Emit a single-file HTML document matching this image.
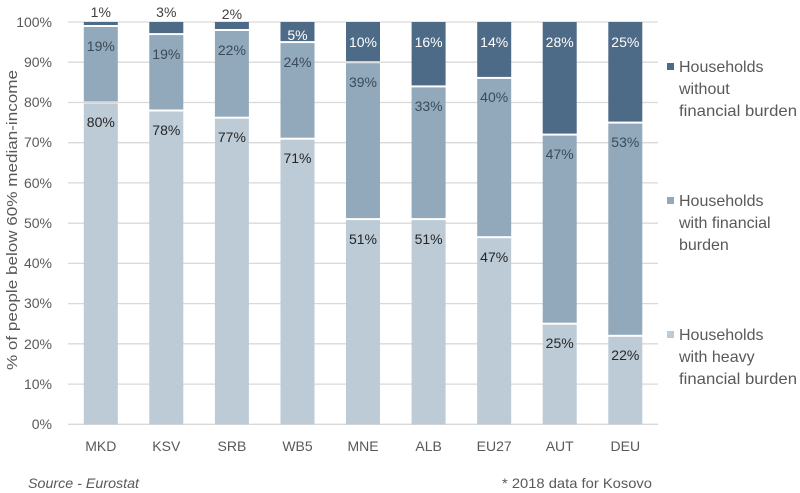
<!DOCTYPE html>
<html><head><meta charset="utf-8"><style>
html,body{margin:0;padding:0;background:#fff;}
svg{display:block;font-family:"Liberation Sans",sans-serif;}
</style></head><body>
<svg width="800" height="493" viewBox="0 0 800 493" xmlns="http://www.w3.org/2000/svg">
<g stroke="#d9d9d9" stroke-width="1.3">
<line x1="68" x2="658" y1="22" y2="22"/><line x1="68" x2="658" y1="62.2" y2="62.2"/><line x1="68" x2="658" y1="102.5" y2="102.5"/><line x1="68" x2="658" y1="142.7" y2="142.7"/><line x1="68" x2="658" y1="182.9" y2="182.9"/><line x1="68" x2="658" y1="223.2" y2="223.2"/><line x1="68" x2="658" y1="263.4" y2="263.4"/><line x1="68" x2="658" y1="303.6" y2="303.6"/><line x1="68" x2="658" y1="343.8" y2="343.8"/><line x1="68" x2="658" y1="384.1" y2="384.1"/><line x1="68" x2="658" y1="424.3" y2="424.3"/>
</g>
<g font-size="14" fill="#595959" text-anchor="end">
<text x="52" y="27">100%</text><text x="52" y="67">90%</text><text x="52" y="107">80%</text><text x="52" y="147">70%</text><text x="52" y="188">60%</text><text x="52" y="228">50%</text><text x="52" y="268">40%</text><text x="52" y="308">30%</text><text x="52" y="349">20%</text><text x="52" y="389">10%</text><text x="52" y="429">0%</text>
</g>
<text transform="translate(17,220) rotate(-90)" font-size="15" fill="#595959" text-anchor="middle" textLength="300" lengthAdjust="spacingAndGlyphs">% of people below 60% median-income</text>
<g fill="#bccbd6">
<rect x="83.8" y="103.5" width="34" height="320.8"/><rect x="149.3" y="111.5" width="34" height="312.8"/><rect x="214.9" y="118.7" width="34" height="305.6"/><rect x="280.5" y="139.7" width="34" height="284.6"/><rect x="346" y="220.1" width="34" height="204.2"/><rect x="411.6" y="220.1" width="34" height="204.2"/><rect x="477.2" y="238.2" width="34" height="186.1"/><rect x="542.7" y="324.7" width="34" height="99.6"/><rect x="608.3" y="336.8" width="34" height="87.5"/>
</g>
<g fill="#91a9ba">
<rect x="83.8" y="27" width="34" height="74.5"/><rect x="149.3" y="35.1" width="34" height="74.4"/><rect x="214.9" y="31" width="34" height="85.7"/><rect x="280.5" y="43.1" width="34" height="94.6"/><rect x="346" y="63.2" width="34" height="154.9"/><rect x="411.6" y="87.4" width="34" height="130.7"/><rect x="477.2" y="78.9" width="34" height="157.3"/><rect x="542.7" y="135.6" width="34" height="187.1"/><rect x="608.3" y="123.6" width="34" height="211.2"/>
</g>
<g fill="#4d6a87">
<rect x="83.8" y="22" width="34" height="3"/><rect x="149.3" y="22" width="34" height="11.1"/><rect x="214.9" y="22" width="34" height="7"/><rect x="280.5" y="22" width="34" height="19.1"/><rect x="346" y="22" width="34" height="39.2"/><rect x="411.6" y="22" width="34" height="63.4"/><rect x="477.2" y="22" width="34" height="54.9"/><rect x="542.7" y="22" width="34" height="111.6"/><rect x="608.3" y="22" width="34" height="99.6"/>
</g>
<g font-size="14" text-anchor="middle">
<g fill="#262626">
<text x="100.8" y="127">80%</text><text x="166.3" y="135">78%</text><text x="231.9" y="142">77%</text><text x="297.5" y="163">71%</text><text x="363" y="244">51%</text><text x="428.6" y="244">51%</text><text x="494.2" y="262">47%</text><text x="559.7" y="348">25%</text><text x="625.3" y="360">22%</text>
<text x="100.8" y="17" fill="#404040">1%</text><text x="166.3" y="17" fill="#404040">3%</text><text x="231.9" y="19" fill="#404040">2%</text>
</g>
<g fill="#3a4b5a">
<text x="100.8" y="51">19%</text><text x="166.3" y="59">19%</text><text x="231.9" y="55">22%</text><text x="297.5" y="67">24%</text><text x="363" y="87">39%</text><text x="428.6" y="111">33%</text><text x="494.2" y="102">40%</text><text x="559.7" y="159">47%</text><text x="625.3" y="147">53%</text>
</g>
<g fill="#ffffff">
<text x="297.5" y="40">5%</text><text x="363" y="47">10%</text><text x="428.6" y="47">16%</text><text x="494.2" y="47">14%</text><text x="559.7" y="47">28%</text><text x="625.3" y="47">25%</text>
</g>
</g>
<g font-size="14" fill="#595959" text-anchor="middle">
<text x="100.8" y="451">MKD</text><text x="166.3" y="451">KSV</text><text x="231.9" y="451">SRB</text><text x="297.5" y="451">WB5</text><text x="363" y="451">MNE</text><text x="428.6" y="451">ALB</text><text x="494.2" y="451">EU27</text><text x="559.7" y="451">AUT</text><text x="625.3" y="451">DEU</text>
</g>
<text x="28" y="488" font-size="14" font-style="italic" fill="#595959" textLength="111" lengthAdjust="spacingAndGlyphs">Source - Eurostat</text>
<text x="502" y="488" font-size="14" fill="#595959" textLength="150" lengthAdjust="spacingAndGlyphs">* 2018 data for Kosovo</text>
<g font-size="16" fill="#595959">
<rect x="667" y="63" width="7" height="7" fill="#4d6a87"/>
<text x="679" y="72">Households</text><text x="679" y="94">without</text><text x="679" y="116" textLength="118" lengthAdjust="spacingAndGlyphs">financial burden</text>
<rect x="667" y="197" width="7" height="7" fill="#91a9ba"/>
<text x="679" y="206">Households</text><text x="679" y="228">with financial</text><text x="679" y="250">burden</text>
<rect x="667" y="331" width="7" height="7" fill="#bccbd6"/>
<text x="679" y="340">Households</text><text x="679" y="362">with heavy</text><text x="679" y="384" textLength="118" lengthAdjust="spacingAndGlyphs">financial burden</text>
</g>
</svg>
</body></html>
